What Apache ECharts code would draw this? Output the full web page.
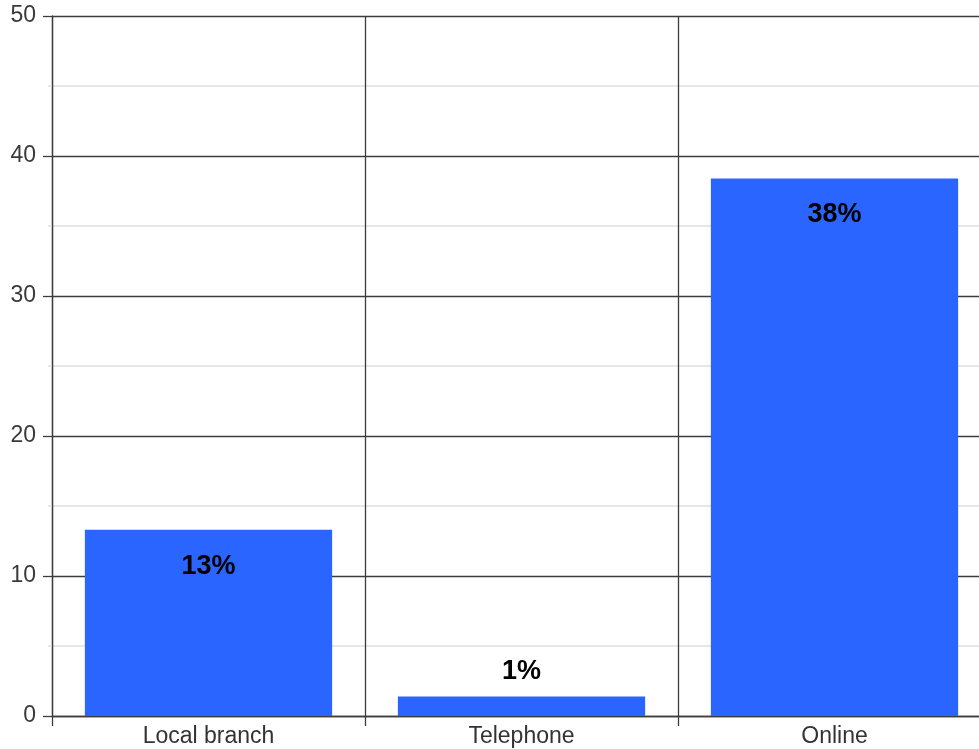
<!DOCTYPE html>
<html>
<head>
<meta charset="utf-8">
<script src="https://cdn.jsdelivr.net/npm/echarts@6/dist/echarts.min.js"></script>
<style>
  html, body { margin: 0; padding: 0; background: #fff; }
  #chart { width: 979px; height: 749px; }
</style>
</head>
<body>
<div id="chart"></div>
<script>
// Share of customers by contact channel
const categories = ['Local branch', 'Telephone', 'Online'];
const shares = [13.3, 1.4, 38.4];
const yTicks = { min: 0, max: 50, interval: 10 };

const FONT = '"Liberation Sans", Arial, sans-serif';
const DARK = '#3c3c3c';
const LIGHT = '#dedede';

const chart = echarts.init(document.getElementById('chart'), null, { renderer: 'canvas' });

chart.setOption({
  animation: false,
  backgroundColor: '#ffffff',
  // plot area runs slightly past the right edge of the canvas
  grid: { left: 52, top: 16, height: 700, width: 939, containLabel: false, outerBoundsMode: 'none' },
  xAxis: {
    type: 'category',
    data: categories,
    boundaryGap: true,
    axisLine: { show: true, lineStyle: { color: DARK, width: 1.3 } },
    axisTick: { show: true, length: 10, lineStyle: { color: DARK, width: 1.3 } },
    axisLabel: { color: '#333', fontFamily: FONT, fontSize: 23, margin: 9 },
    splitLine: { show: true, lineStyle: { color: DARK, width: 1.3 } }
  },
  yAxis: {
    type: 'value',
    min: yTicks.min,
    max: yTicks.max,
    interval: yTicks.interval,
    axisLine: { show: true, lineStyle: { color: DARK, width: 1.3 } },
    axisTick: { show: true, length: 9, lineStyle: { color: DARK, width: 1.3 } },
    minorTick: { show: true, splitNumber: 2, length: 4, lineStyle: { color: LIGHT, width: 1.5 } },
    axisLabel: { color: '#3a3a3a', fontFamily: FONT, fontSize: 23, margin: 16, padding: [3, 0, 0, 0] },
    splitLine: { show: true, lineStyle: { color: DARK, width: 1.3 } },
    minorSplitLine: { show: true, lineStyle: { color: LIGHT, width: 1.5 } }
  },
  series: [{
    type: 'bar',
    barCategoryGap: '21%',
    itemStyle: { color: '#2b65ff' },
    data: shares.map(v => ({
      value: v,
      label: v < 5 ? { position: 'top', distance: 11 } : { position: 'insideTop', distance: 23 }
    })),
    label: {
      show: true,
      color: '#000',
      fontFamily: FONT,
      fontWeight: 'bold',
      fontSize: 27,
      formatter: p => Math.round(p.value) + '%'
    }
  }]
});
</script>
</body>
</html>
